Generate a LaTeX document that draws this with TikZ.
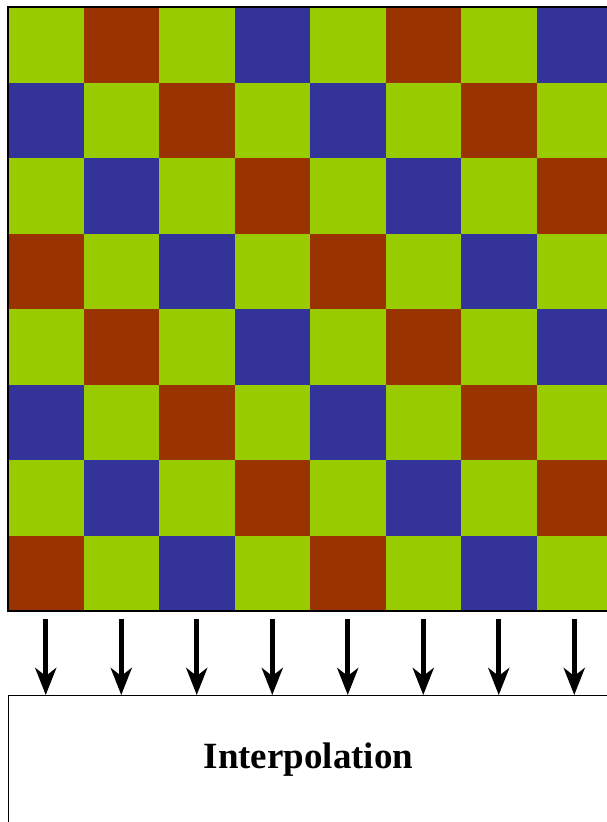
\documentclass[tikz,border=0pt]{standalone}
\usepackage{fontspec}
\setmainfont{Liberation Serif}
\usepackage{xcolor}
\usetikzlibrary{arrows.meta}
\definecolor{BayerG}{RGB}{153,204,0}
\definecolor{BayerR}{RGB}{153,51,0}
\definecolor{BayerB}{RGB}{51,51,153}

\begin{document}
\begin{tikzpicture}[x=1pt,y=-1pt,
    cell/.style={minimum size=75.5pt,inner sep=0pt,outer sep=0pt,anchor=north west},
    feed/.style={line width=5pt,-{Stealth[length=27pt,width=21pt,inset=8pt]}}]
  % Bayer mosaic: 8x8 cells of 75.5px, top left corner at (8,7), y runs downwards
  \useasboundingbox (0,0) rectangle (607,822);
  \def\cs{75.5}

  \foreach \r/\cols in {
    0/{G,R,G,B,G,R,G,B},
    1/{B,G,R,G,B,G,R,G},
    2/{G,B,G,R,G,B,G,R},
    3/{R,G,B,G,R,G,B,G},
    4/{G,R,G,B,G,R,G,B},
    5/{B,G,R,G,B,G,R,G},
    6/{G,B,G,R,G,B,G,R},
    7/{R,G,B,G,R,G,B,G}}{
    \foreach \k [count=\c from 0] in \cols {
      \node[cell,fill=Bayer\k] (c\r\c) at (8+\c*\cs,7+\r*\cs) {};
    }
  }
  % outline of the mosaic
  \draw[line width=1.2pt] (c00.north west) rectangle (c77.south east);

  % Interpolation block (runs off the page to the right and bottom)
  \node[draw,line width=1.2pt,minimum width=640pt,minimum height=160pt,
        inner sep=0pt,anchor=north west] (interp) at (8,695) {};
  \node[font=\bfseries\fontsize{37}{40}\selectfont,anchor=base] (lbl) at (308.5,768) {Interpolation};

  % one arrow per column
  \foreach \c in {0,...,7}{
    \draw[feed] ([yshift=-8pt]c7\c.south) -- (c7\c.south |- interp.north);
  }
\end{tikzpicture}
\end{document}
